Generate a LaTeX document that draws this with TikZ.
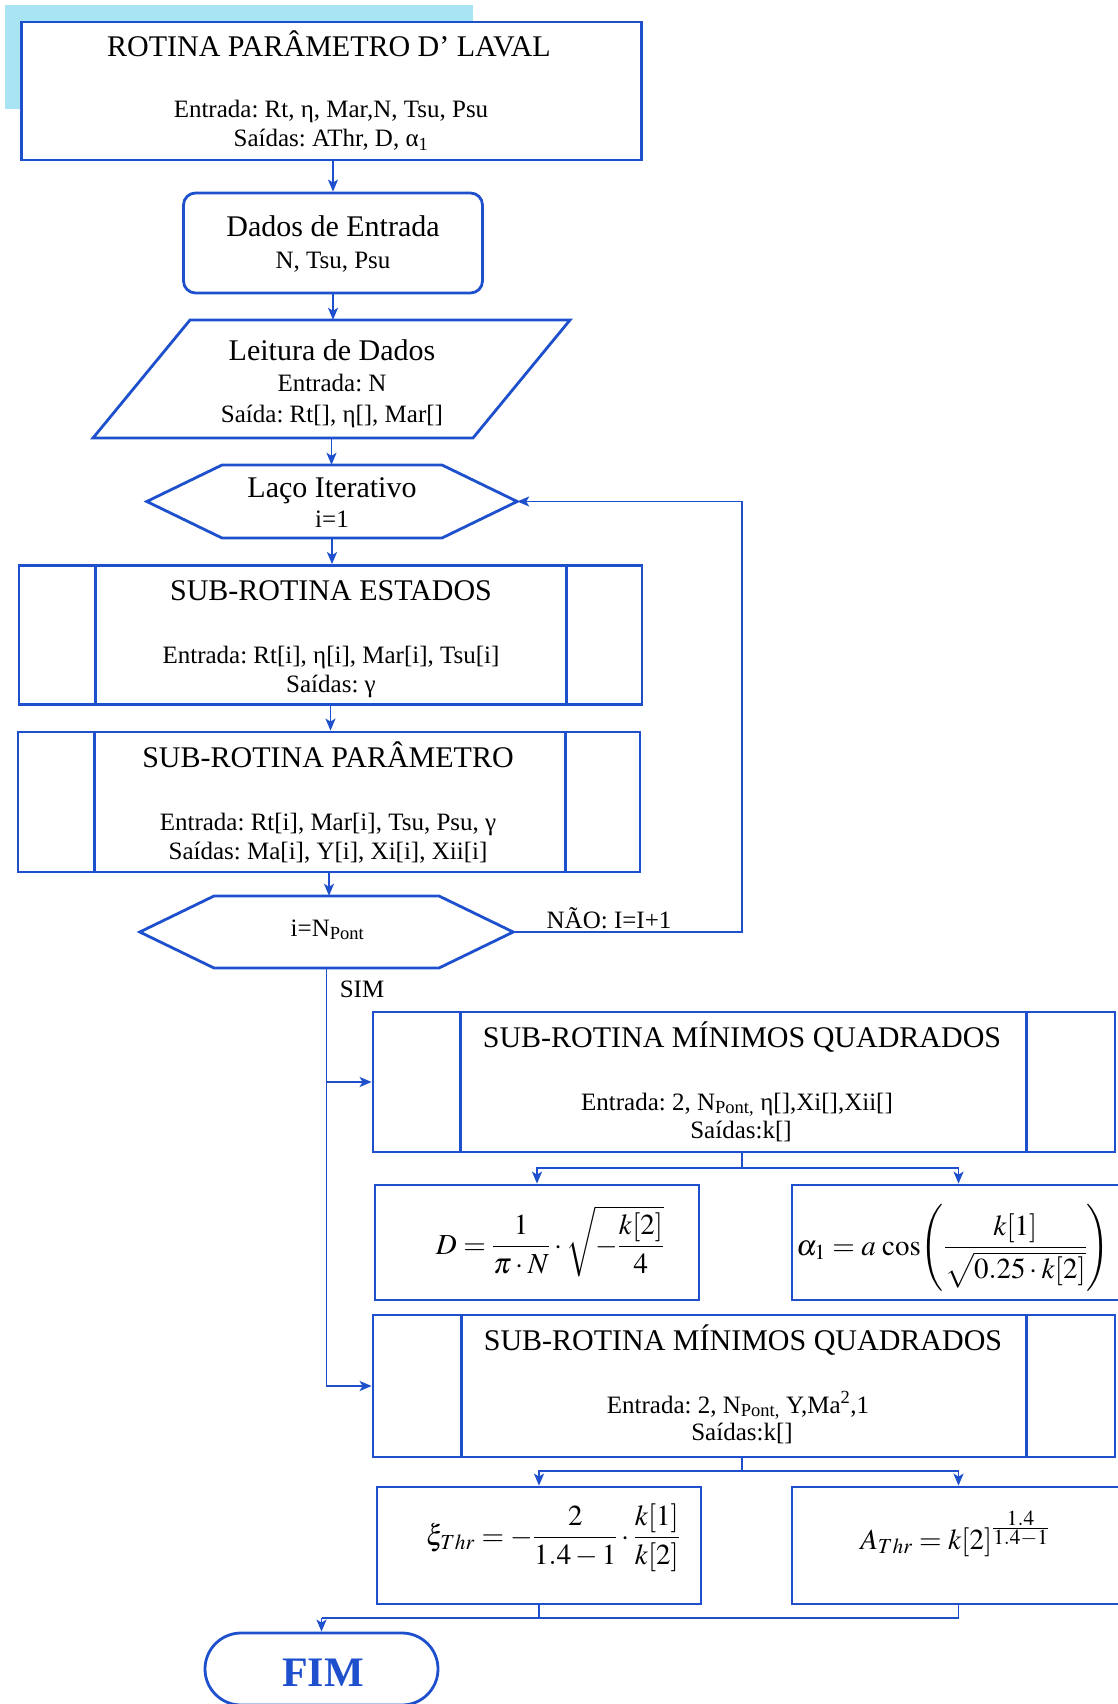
\documentclass[tikz,border=0pt]{standalone}
\usepackage{amsmath}
\usepackage{mathptmx}
\usepackage{fontspec}
\setmainfont{Liberation Serif}
\usetikzlibrary{arrows.meta,calc}
\definecolor{flowblue}{RGB}{30,80,205}
\definecolor{tabcyan}{RGB}{168,228,242}
\frenchspacing

\begin{document}
\begin{tikzpicture}[x=1pt,y=-1pt,
  shape line/.style={draw=flowblue, line width=2.8pt, line join=miter},
  boxnode/.style={shape line, fill=white, rectangle, inner sep=0pt},
  ghost/.style={rectangle, inner sep=0pt},
  conn/.style={draw=flowblue, line width=1.8pt},
  arr/.style={conn, -{Stealth[length=12pt,width=10pt,inset=3pt]}},
  ttl/.style={inner sep=0pt, anchor=base, font=\fontsize{30}{36}\selectfont},
  txt/.style={inner sep=0pt, anchor=base, font=\fontsize{25}{30}\selectfont},
  eqn/.style={inner sep=0pt, anchor=base, font=\fontsize{29}{35}\selectfont},
]
\fill[white] (0,0) rectangle (1118,1704);
\useasboundingbox (0,0) rectangle (1118,1704);

% tab behind the heading box
\fill[tabcyan] (5,5) rectangle (473,109);

% ---------- main column ----------
\node[boxnode, minimum width=620pt, minimum height=138pt] (rotina) at (331.5,91) {};
\node[ttl] at (329,57) {ROTINA PARÂMETRO D’ LAVAL};
\node[txt] at (331,118) {Entrada: Rt, η, Mar,N, Tsu, Psu};
\node[txt] at (331,147) {Saídas: AThr, D, α\textsubscript{1}};

\node[boxnode, rounded corners=12pt, minimum width=299pt, minimum height=100pt] (dados) at (333,243) {};
\node[ttl] at (333,237) {Dados de Entrada};
\node[txt] at (333,269) {N, Tsu, Psu};

% data input (parallelogram)
\node[ghost, minimum width=477pt, minimum height=118pt] (leitura) at (331.5,379) {};
\draw[shape line] (190,320) -- (570,320) -- (473,438) -- (93,438) -- cycle;
\node[ttl] at (332,360) {Leitura de Dados};
\node[txt] at (332,391) {Entrada: N};
\node[txt] at (332,422) {Saída: Rt[], η[], Mar[]};

% loop start (hexagon)
\node[ghost, minimum width=370pt, minimum height=73pt] (laco) at (332,501.5) {};
\draw[shape line] (laco.west) -- (222,465) -- (442,465) -- (laco.east) -- (442,538) -- (222,538) -- cycle;
\node[ttl] at (332,497) {Laço Iterativo};
\node[txt] at (332,527) {i=1};

% sub-routine: states
\node[boxnode, minimum width=623pt, minimum height=139pt] (estados) at (330.5,635) {};
\draw[shape line] ([xshift=78pt]estados.north west) -- ([xshift=78pt]estados.south west);
\draw[shape line] ([xshift=-77pt]estados.north east) -- ([xshift=-77pt]estados.south east);
\node[ttl] at (331,600) {SUB-ROTINA ESTADOS};
\node[txt] at (331,663) {Entrada: Rt[i], η[i], Mar[i], Tsu[i]};
\node[txt] at (331,692) {Saídas: γ};

% sub-routine: parameter
\node[boxnode, minimum width=622pt, minimum height=140pt] (parametro) at (329,802) {};
\draw[shape line] ([xshift=77.5pt]parametro.north west) -- ([xshift=77.5pt]parametro.south west);
\draw[shape line] ([xshift=-76pt]parametro.north east) -- ([xshift=-76pt]parametro.south east);
\node[ttl] at (328,767) {SUB-ROTINA PARÂMETRO};
\node[txt] at (328,830) {Entrada: Rt[i], Mar[i], Tsu, Psu, γ};
\node[txt] at (328,859) {Saídas: Ma[i], Y[i], Xi[i], Xii[i]};

% loop test (hexagon)
\node[ghost, minimum width=373pt, minimum height=72pt] (teste) at (326.5,932) {};
\draw[shape line] (teste.west) -- (214,896) -- (439,896) -- (teste.east) -- (439,968) -- (214,968) -- cycle;
\node[txt] at (327.5,936) {i=N\textsubscript{Pont}};

% ---------- least squares, first pass ----------
\node[boxnode, minimum width=742pt, minimum height=140pt] (mq1) at (744,1082) {};
\draw[shape line] ([xshift=89pt]mq1.north west) -- ([xshift=89pt]mq1.south west);
\draw[shape line] ([xshift=-90pt]mq1.north east) -- ([xshift=-90pt]mq1.south east);
\node[ttl] at (742,1047) {SUB-ROTINA MÍNIMOS QUADRADOS};
\node[txt] at (737,1110) {Entrada: 2, N\textsubscript{Pont,} η[],Xi[],Xii[]};
\node[txt] at (741,1138) {Saídas:k[]};

\node[boxnode, minimum width=324pt, minimum height=115pt] (dbox) at (537,1242.5) {};
\node[eqn] at (550,1254) {$D=\dfrac{1}{\pi\cdot N}\cdot\sqrt{-\dfrac{k[2]}{4}}$};

\node[boxnode, minimum width=333pt, minimum height=115pt] (abox) at (958.5,1242.5) {};
\node[eqn] at (953,1255) {$\alpha_{1}=a\,\cos\!\left(\dfrac{k[1]}{\sqrt{0.25\cdot k[2]}}\right)$};

% ---------- least squares, second pass ----------
\node[boxnode, minimum width=742pt, minimum height=142pt] (mq2) at (744,1386) {};
\draw[shape line] ([xshift=90pt]mq2.north west) -- ([xshift=90pt]mq2.south west);
\draw[shape line] ([xshift=-90pt]mq2.north east) -- ([xshift=-90pt]mq2.south east);
\node[ttl] at (743,1350) {SUB-ROTINA MÍNIMOS QUADRADOS};
\node[txt] at (738,1413) {Entrada: 2, N\textsubscript{Pont,} Y,Ma\textsuperscript{2},1};
\node[txt] at (742,1440) {Saídas:k[]};

\node[boxnode, minimum width=324pt, minimum height=117pt] (xibox) at (539,1545.5) {};
\node[eqn] at (553,1545) {$\xi_{Thr}=-\dfrac{2}{1.4-1}\cdot\dfrac{k[1]}{k[2]}$};

\node[boxnode, minimum width=333pt, minimum height=117pt] (thrbox) at (958.5,1545.5) {};
\node[eqn] at (955,1549) {$A_{Thr}=k[2]^{\frac{\scriptstyle 1.4}{\scriptstyle 1.4-1}}$};

% end terminal
\node[boxnode, rounded corners=36pt, minimum width=233pt, minimum height=72pt] (fim) at (321.5,1669) {};
\node[inner sep=0pt, anchor=base, text=flowblue, font=\fontsize{42}{50}\selectfont\bfseries] at (323,1686) {FIM};

% ---------- connectors ----------
\draw[arr] (rotina.south -| dados.north) -- (dados.north);
\draw[arr] (dados.south) -- (dados.south |- leitura.north);
\draw[arr] (leitura.south) -- (leitura.south |- laco.north);
\draw[arr] (laco.south) -- (laco.south |- estados.north);
\draw[arr] (estados.south) -- (estados.south |- parametro.north);
\draw[arr] (parametro.south) -- (parametro.south |- teste.north);

% back edge of the loop
\coordinate (volta) at (742,932);
\draw[arr] (teste.east) -- (volta) |- (laco.east);
\node[txt] at (609,928) {NÃO: I=I+1};

% exit of the loop
\draw[arr] (teste.south) -- (teste.south |- mq2.west) -- (mq2.west);
\draw[arr] (teste.south |- mq1.west) -- (mq1.west);
\node[txt] at (362,997) {SIM};

% fan-out below each least-squares box
\coordinate (sp1) at (742,1168);
\draw[conn] (sp1 |- mq1.south) -- (sp1);
\draw[arr] (sp1) -| (dbox.north);
\draw[arr] (sp1) -| (abox.north);

\coordinate (sp2) at (742,1471);
\draw[conn] (sp2 |- mq2.south) -- (sp2);
\draw[arr] (sp2) -| (xibox.north);
\draw[arr] (sp2) -| (thrbox.north);

% merge into the end terminal
\coordinate (jn) at (0,1618);
\draw[conn] (xibox.south) -- (xibox.south |- jn);
\draw[conn] (thrbox.south) -- (thrbox.south |- jn) -- (fim.north |- jn);
\draw[arr] (fim.north |- jn) -- (fim.north);
\end{tikzpicture}
\end{document}
